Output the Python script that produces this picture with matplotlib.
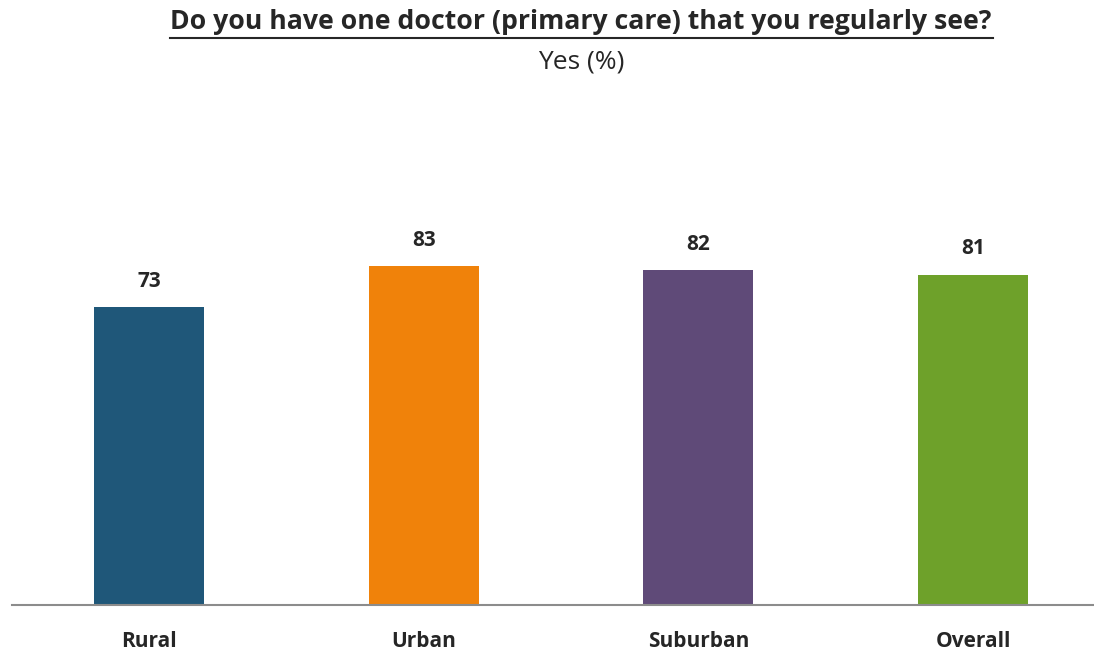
import matplotlib
matplotlib.use("Agg")
import matplotlib.pyplot as plt

categories = ["Rural", "Urban", "Suburban", "Overall"]
values = [73, 83, 82, 81]
colors = ["#1F5779", "#F0820A", "#5F4A78", "#6EA12A"]

plt.rcParams['font.family'] = ['Open Sans', 'DejaVu Sans']

fig = plt.figure(figsize=(10.94, 6.51), dpi=100)
ax = fig.add_axes([12/1094, 46/651, 1082/1094, 408/651])
x = list(range(len(categories)))
bars = ax.bar(x, values, width=0.4, color=colors)
ax.set_xlim(-0.5, 3 + 121/274.5)
ax.set_ylim(0, 100)
for xi, v in zip(x, values):
    ax.annotate(f"{v}", (xi, v), xytext=(0, 11), textcoords="offset points",
                ha="center", va="bottom", fontsize=15, fontweight="bold", color="#262626")
ax.set_xticks(x)
ax.set_xticklabels(categories, fontsize=15, fontweight="bold", color="#262626")
ax.tick_params(axis='x', length=0, pad=19)
ax.set_yticks([])
for s in ["top", "right", "left"]:
    ax.spines[s].set_visible(False)
ax.spines["bottom"].set_color("#8C8C8C")
ax.spines["bottom"].set_linewidth(1.5)

fig.text(581/1094, 1 - 22/651, "Do you have one doctor (primary care) that you regularly see?",
         ha="center", va="center", fontsize=19.2, fontweight="bold", color="#262626")
fig.text(581/1094, 1 - 62/651, "Yes (%)", ha="center", va="center", fontsize=19, color="#262626")
# underline
fig.add_artist(plt.Line2D([170/1094, 993/1094], [1 - 38/651, 1 - 38/651], color="#262626", lw=1.5))

fig.savefig("out.png", dpi=100)
